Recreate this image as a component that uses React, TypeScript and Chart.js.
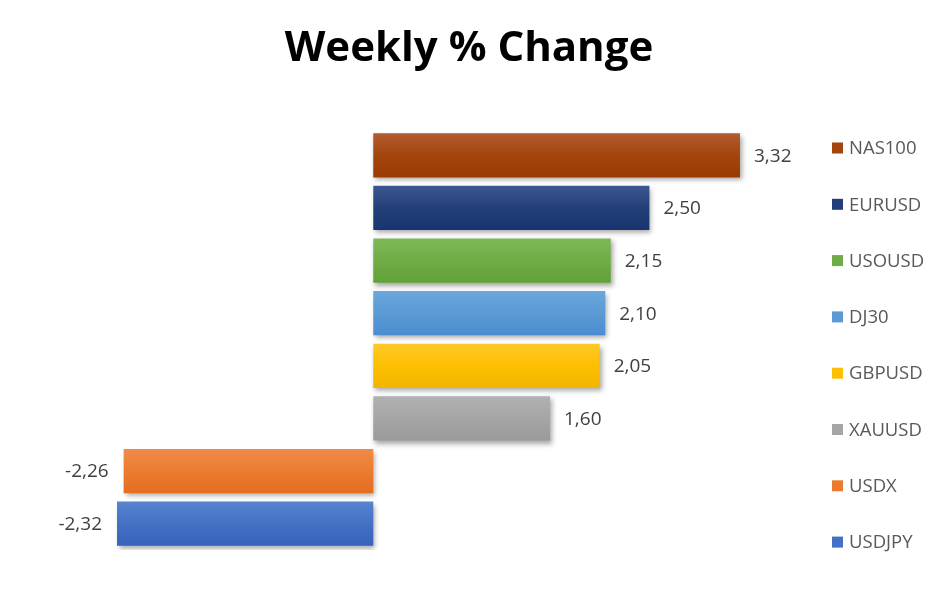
import React, { useEffect, useRef } from "react";
import { Chart, registerables } from "chart.js";

Chart.register(...registerables);

const categories = ["NAS100", "EURUSD", "USOUSD", "DJ30", "GBPUSD", "XAUUSD", "USDX", "USDJPY"];
const values = [3.32, 2.5, 2.15, 2.1, 2.05, 1.6, -2.26, -2.32];
const baseColors = ["#A4450D", "#233F7A", "#6FAC46", "#5A9AD5", "#FDBF00", "#A5A5A5", "#EC7B30", "#4471C4"];
const topColors = ["#B25A31", "#3C5690", "#7EB958", "#6CA6DD", "#FFC82A", "#B1B1B1", "#F08B48", "#5783D0"];
const bottomColors = ["#993B01", "#19356F", "#61A238", "#4A8DD0", "#F2B500", "#9A9A9A", "#E36E1E", "#3663BC"];
const titleText = "Weekly % Change";

const FONT = "'Open Sans', 'DejaVu Sans', sans-serif";

export default function App() {
  const ref = useRef<HTMLCanvasElement | null>(null);

  useEffect(() => {
    document.body.style.margin = "0";
    document.body.style.overflow = "hidden";
    const canvas = ref.current;
    if (!canvas) return;

    const shadowPlugin = {
      id: "barShadow",
      beforeDatasetsDraw(chart: any) {
        const ctx = chart.ctx;
        ctx.save();
        ctx.shadowColor = "rgba(0,0,0,0.35)";
        ctx.shadowBlur = 5;
        ctx.shadowOffsetX = 2;
        ctx.shadowOffsetY = 3;
      },
      afterDatasetsDraw(chart: any) {
        chart.ctx.restore();
      },
    };

    const overlayPlugin = {
      id: "overlay",
      afterDraw(chart: any) {
        const ctx = chart.ctx;
        ctx.save();
        // title
        ctx.fillStyle = "#000000";
        ctx.font = `bold 42px ${FONT}`;
        ctx.textAlign = "center";
        ctx.textBaseline = "alphabetic";
        ctx.fillText(titleText, 469, 61);

        // data labels
        const meta = chart.getDatasetMeta(0);
        ctx.textBaseline = "middle";
        ctx.font = `19px ${FONT}`;
        ctx.fillStyle = "#404040";
        meta.data.forEach((bar: any, i: number) => {
          const v = values[i];
          const label = v.toFixed(2).replace(".", ",");
          if (v >= 0) {
            ctx.textAlign = "left";
            ctx.fillText(label, bar.x + 14, bar.y + 1);
          } else {
            ctx.textAlign = "right";
            ctx.fillText(label, bar.x - 15, bar.y + 1);
          }
        });

        // legend
        ctx.font = `18.5px ${FONT}`;
        ctx.textAlign = "left";
        const top = 148;
        const step = 56.3;
        categories.forEach((c, i) => {
          const y = top + i * step;
          ctx.fillStyle = baseColors[i];
          ctx.fillRect(832, y - 5.5, 11, 11);
          ctx.fillStyle = "#595959";
          ctx.fillText(c, 849, y + 1);
        });
        ctx.restore();
      },
    };

    const chart = new Chart(canvas, {
      type: "bar",
      data: {
        labels: categories,
        datasets: [
          {
            data: values,
            backgroundColor: (c: any) => {
              const ch = c.chart;
              const i = c.dataIndex;
              if (!ch.chartArea || !ch.scales || !ch.scales.y || i === undefined) return baseColors[i ?? 0];
              const yc = ch.scales.y.getPixelForValue(i);
              const g = ch.ctx.createLinearGradient(0, yc - 22, 0, yc + 22);
              g.addColorStop(0, topColors[i]);
              g.addColorStop(0.5, baseColors[i]);
              g.addColorStop(1, bottomColors[i]);
              return g;
            },
            borderWidth: 0,
            barPercentage: 0.84,
            categoryPercentage: 1,
          },
        ],
      },
      options: {
        indexAxis: "y",
        animation: false,
        responsive: true,
        maintainAspectRatio: false,
        devicePixelRatio: 1,
        layout: { padding: { left: 64, right: 147, top: 129, bottom: 47 } },
        scales: {
          x: { display: false, min: -2.8, max: 3.8 },
          y: { display: false },
        },
        plugins: {
          legend: { display: false },
          title: { display: false },
          tooltip: { enabled: false },
        },
      },
      plugins: [shadowPlugin, overlayPlugin],
    });

    return () => chart.destroy();
  }, []);

  return (
    <div style={{ width: 940, height: 597, position: "relative", background: "#ffffff" }}>
      <canvas ref={ref} />
    </div>
  );
}
